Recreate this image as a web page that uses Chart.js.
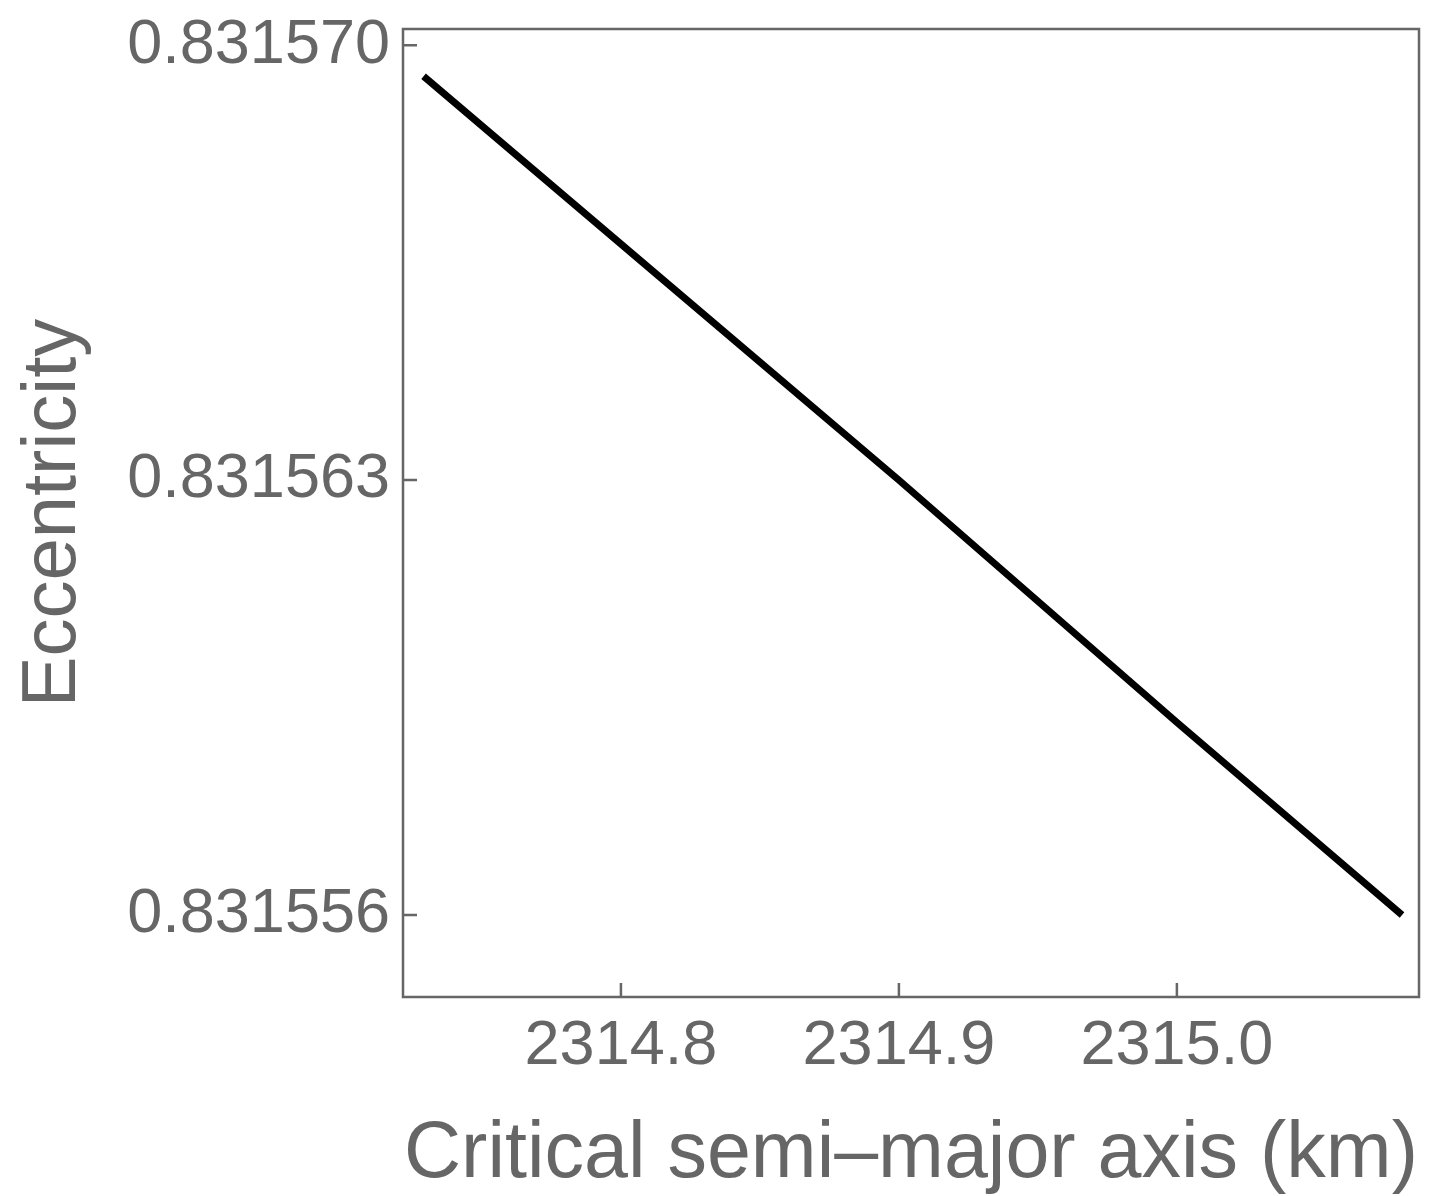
<!DOCTYPE html>
<html>
<head>
<meta charset="utf-8">
<script src="https://cdn.jsdelivr.net/npm/chart.js@4"></script>
<style>
  html, body { margin: 0; padding: 0; background: #fff; }
  #wrap { width: 1436px; height: 1196px; }
</style>
</head>
<body>
<div id="wrap"><canvas id="eccChart"></canvas></div>
<script>
const semiMajor = [2314.729, 2314.8, 2314.9, 2315.0, 2315.081];
const eccentricity = [0.8315695, 0.8315668, 0.831563, 0.8315591, 0.831556];
const xTicks = [2314.8, 2314.9, 2315.0];
const yTicks = [0.831556, 0.831563, 0.831570];

const axisGray = '#666666';
const fontFamily = '"Liberation Sans", Arial, sans-serif';

// frame + inward tick marks, like the original plot
const framePlugin = {
    id: 'frame',
    afterDraw(chart) {
        const { ctx, chartArea: a, scales } = chart;
        ctx.save();
        ctx.strokeStyle = axisGray;
        ctx.lineWidth = 2.5;
        ctx.strokeRect(a.left, a.top, a.right - a.left, a.bottom - a.top);
        ctx.beginPath();
        scales.x.ticks.forEach(t => {
            const px = scales.x.getPixelForValue(t.value);
            ctx.moveTo(px, a.bottom);
            ctx.lineTo(px, a.bottom - 14);
        });
        scales.y.ticks.forEach(t => {
            const py = scales.y.getPixelForValue(t.value);
            ctx.moveTo(a.left, py);
            ctx.lineTo(a.left + 14, py);
        });
        ctx.stroke();
        ctx.restore();
    }
};

const ctx = document.getElementById('eccChart').getContext('2d');
new Chart(ctx, {
    type: 'line',
    data: {
        datasets: [{
            data: semiMajor.map((v, i) => ({ x: v, y: eccentricity[i] })),
            borderColor: '#000000',
            borderWidth: 7,
            borderCapStyle: 'butt',
            pointRadius: 0,
            tension: 0,
            fill: false
        }]
    },
    options: {
        responsive: true,
        maintainAspectRatio: false,
        animation: false,
        layout: { padding: { top: 29, right: 17, left: 0, bottom: 0 } },
        plugins: {
            legend: { display: false },
            tooltip: { enabled: false }
        },
        scales: {
            x: {
                type: 'linear',
                min: 2314.7216,
                max: 2315.0871,
                afterBuildTicks(scale) { scale.ticks = xTicks.map(v => ({ value: v })); },
                afterFit(scale) {
                    scale.height = 199;
                    scale.paddingLeft = 0;
                    scale.paddingRight = 0;
                },
                grid: { display: false, drawTicks: false },
                border: { display: false },
                ticks: {
                    color: axisGray,
                    font: { family: fontFamily, size: 63 },
                    padding: 12,
                    maxRotation: 0,
                    callback: v => v.toFixed(1)
                },
                title: {
                    display: true,
                    text: 'Critical semi\u2013major axis (km)',
                    color: axisGray,
                    font: { family: fontFamily, size: 79 },
                    padding: { top: 4, bottom: -7 }
                }
            },
            y: {
                type: 'linear',
                min: 0.83155468,
                max: 0.83157026,
                afterBuildTicks(scale) { scale.ticks = yTicks.map(v => ({ value: v })); },
                afterFit(scale) {
                    scale.width = 403;
                    scale.paddingTop = 0;
                    scale.paddingBottom = 0;
                },
                grid: { display: false, drawTicks: false },
                border: { display: false },
                ticks: {
                    color: axisGray,
                    font: { family: fontFamily, size: 63 },
                    padding: 13,
                    callback: v => v.toFixed(6)
                },
                title: {
                    display: true,
                    text: 'Eccentricity',
                    color: axisGray,
                    font: { family: fontFamily, size: 76 },
                    padding: { top: 8, bottom: 0 }
                }
            }
        }
    },
    plugins: [framePlugin]
});
</script>
</body>
</html>
